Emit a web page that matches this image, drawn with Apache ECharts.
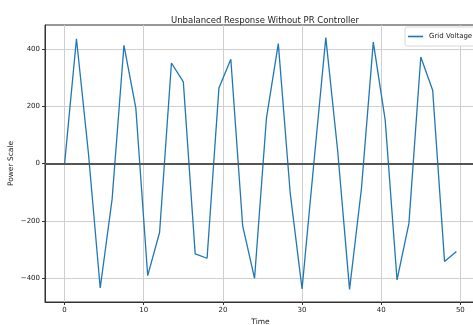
<!DOCTYPE html>
<html>
<head>
<meta charset="utf-8">
<script src="https://cdn.jsdelivr.net/npm/echarts@6/dist/echarts.min.js"></script>
<style>
  html, body { margin: 0; padding: 0; background: #fff; }
  #chart { width: 473px; height: 325px; }
</style>
</head>
<body>
<div id="chart"></div>
<script>
// sample times
var timeData = [0, 1.5, 3, 4.5, 6, 7.5, 9, 10.5, 12, 13.5, 15, 16.5, 18, 19.5, 21, 22.5, 24,
	25.5, 27, 28.5, 30, 31.5, 33, 34.5, 36, 37.5, 39, 40.5, 42, 43.5, 45, 46.5, 48, 49.5];
// grid voltage
var gridVoltage = [0, 437, 40, -435, -125, 414, 194, -392, -241, 352, 286, -316, -331, 265, 365, -218, -401,
	159, 420, -102, -438, 5, 441, 45, -440, -88, 425, 153, -407, -209, 373, 257, -342, -307];
var xTicks = [0, 10, 20, 30, 40, 50];
var yTicks = [-400, -200, 0, 200, 400];

var chart = echarts.init(document.getElementById('chart'));

var seriesData = [];
for (var i = 0; i < timeData.length; i++) {
	seriesData.push([timeData[i], gridVoltage[i]]);
}

// matplotlib style minus sign
var fmt = function(v) {
	return v < 0 ? '\u2212' + Math.abs(v) : String(v);
};

var font = 'DejaVu Sans';
var option = {
	animation: false,
	backgroundColor: '#fff',
	title: {
		text: 'Unbalanced Response Without PR Controller',
		left: 260,
		top: 11,
		textAlign: 'center',
		textStyle: { fontFamily: font, fontSize: 8.5, fontWeight: 'normal', color: '#222' }
	},
	legend: {
		data: ['Grid Voltage'],
		icon: 'rect',
		left: 405,
		top: 27,
		orient: 'vertical',
		backgroundColor: '#fff',
		borderColor: '#d8d8d8',
		borderWidth: 1,
		borderRadius: 2,
		padding: [6, 6, 6, 3],
		itemWidth: 15,
		itemHeight: 1.6,
		itemGap: 4,
		textStyle: { fontFamily: font, fontSize: 7, color: '#222', padding: [0, 0, 0, 1] }
	},
	grid: {
		left: 45,
		right: -3,
		top: 25,
		bottom: 23,
		outerBoundsMode: 'none',
		containLabel: false,
		show: true,
		borderColor: '#333',
		borderWidth: 1
	},
	xAxis: {
		type: 'value',
		min: -2.475,
		max: 51.975,
		name: 'Time',
		nameLocation: 'middle',
		nameGap: 16,
		nameMoveOverlap: false,
		nameTextStyle: { fontFamily: font, fontSize: 7.5, color: '#222' },
		axisLine: { show: true, onZero: false, lineStyle: { color: '#333', width: 1 } },
		axisTick: { show: true, length: 3, customValues: xTicks, lineStyle: { color: '#333' } },
		axisLabel: { customValues: xTicks, formatter: fmt, fontFamily: font, fontSize: 7, color: '#222', margin: 5 },
		splitLine: { show: true, lineStyle: { color: '#cfcfcf', width: 1 } }
	},
	yAxis: {
		type: 'value',
		min: -484,
		max: 485,
		name: 'Power Scale',
		nameLocation: 'middle',
		nameGap: 30,
		nameMoveOverlap: false,
		nameTextStyle: { fontFamily: font, fontSize: 7.5, color: '#222' },
		axisLine: { show: true, onZero: false, lineStyle: { color: '#333', width: 1 } },
		axisTick: { show: true, length: 3, customValues: yTicks, lineStyle: { color: '#333' } },
		axisLabel: { customValues: yTicks, formatter: fmt, fontFamily: font, fontSize: 7, color: '#222', margin: 5 },
		splitLine: { show: true, lineStyle: { color: '#cfcfcf', width: 1 } }
	},
	series: [{
		name: 'Grid Voltage',
		type: 'line',
		symbol: 'none',
		data: seriesData,
		lineStyle: { color: '#1f77b4', width: 1.3 },
		itemStyle: { color: '#1f77b4' },
		markLine: {
			silent: true,
			symbol: 'none',
			label: { show: false },
			lineStyle: { color: '#555', type: 'solid', width: 2.2 },
			data: [{ yAxis: 0 }]
		}
	}]
};
chart.setOption(option);
</script>
</body>
</html>
